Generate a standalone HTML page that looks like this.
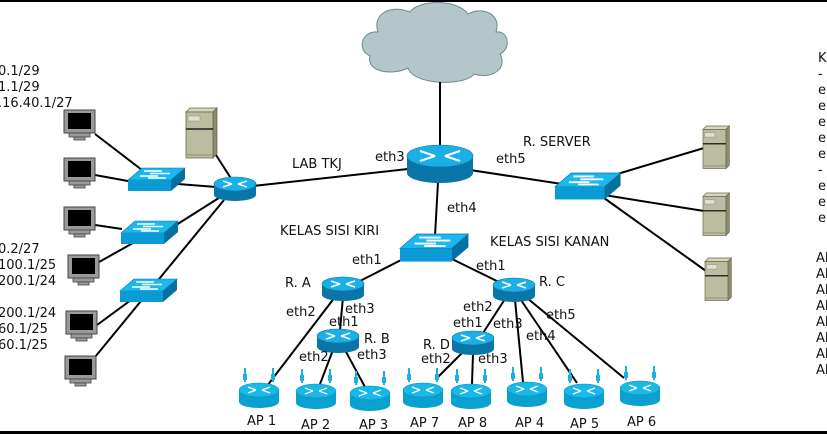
<!DOCTYPE html>
<html><head><meta charset="utf-8"><style>
html,body{margin:0;padding:0;background:#fff;}
svg{display:block;}
text{font-family:"DejaVu Sans","Liberation Sans",sans-serif;font-size:13px;fill:#111;}
</style></head><body>
<svg width="827" height="434" viewBox="0 0 827 434" xmlns="http://www.w3.org/2000/svg">
<defs>
<g id="pc">
 <rect x="0" y="0" width="31" height="23" fill="#9a9a9a" stroke="#444" stroke-width="1"/>
 <rect x="4" y="3" width="23" height="16" fill="#000"/>
 <rect x="5" y="23" width="21" height="4" fill="#9a9a9a" stroke="#444" stroke-width="0.8"/>
 <rect x="10" y="27" width="11" height="3" fill="#9a9a9a" stroke="#444" stroke-width="0.8"/>
</g>
<g id="srv">
 <polygon points="0,4 4,0 31,0 27,4" fill="#d6d6c0" stroke="#66664e" stroke-width="0.8"/>
 <polygon points="27,4 31,0 31,46 27,50" fill="#8c8c70" stroke="#66664e" stroke-width="0.8"/>
 <rect x="0" y="4" width="27" height="46" fill="#bcbca0" stroke="#66664e" stroke-width="0.8"/>
 <rect x="2" y="8" width="12" height="5" fill="#e0e0d0" stroke="#888" stroke-width="0.5"/>
 <line x1="0" y1="21" x2="27" y2="21" stroke="#000" stroke-width="1.3"/>
 <line x1="0" y1="47" x2="27" y2="47" stroke="#8c8c70" stroke-width="1"/>
</g>
<g id="sw">
 <polygon points="0,12 14,0 57,0 43,12" fill="#1ab8ee" stroke="#0a7aaa" stroke-width="0.6"/>
 <polygon points="43,12 57,0 57,11 43,23" fill="#0670a0"/>
 <rect x="0" y="12" width="43" height="11" fill="#0a9ad6"/>
 <g stroke="#fff" stroke-width="1.6" fill="none">
  <line x1="16" y1="3" x2="34" y2="3"/><line x1="22" y1="5.5" x2="42" y2="5.5"/>
  <line x1="12" y1="8" x2="30" y2="8"/><line x1="20" y1="10" x2="38" y2="10"/>
 </g>
</g>
<g id="rt">
 <rect x="-21" y="0" width="42" height="11" fill="#0a76a8"/>
 <ellipse cx="0" cy="11" rx="21" ry="6" fill="#0a76a8"/>
 <ellipse cx="0" cy="0" rx="21" ry="7" fill="#1ab0e6" stroke="#0a76a8" stroke-width="0.6"/>
 <g stroke="#fff" stroke-width="1.6">
  <line x1="-12" y1="-3" x2="-3" y2="0"/><line x1="12" y1="3" x2="3" y2="0"/>
  <line x1="12" y1="-3" x2="3" y2="0"/><line x1="-12" y1="3" x2="-3" y2="0"/>
 </g>
</g>
<g id="ap">
 <g fill="#1ab0e0"><rect x="-15" y="-22" width="2" height="14"/><rect x="13" y="-22" width="2" height="14"/>
 <rect x="-16" y="-16" width="4" height="6"/><rect x="12" y="-16" width="4" height="6"/></g>
 <rect x="-20" y="0" width="40" height="12" fill="#0aa0d0"/>
 <ellipse cx="0" cy="12" rx="20" ry="6" fill="#0aa0d0"/>
 <ellipse cx="0" cy="0" rx="20" ry="7" fill="#18b8e8" stroke="#0a8ab8" stroke-width="0.5"/>
 <g stroke="#fff" stroke-width="1.4">
  <line x1="-11" y1="-3" x2="-3" y2="0"/><line x1="11" y1="3" x2="3" y2="0"/>
  <line x1="11" y1="-3" x2="3" y2="0"/><line x1="-11" y1="3" x2="-3" y2="0"/>
 </g>
</g>
</defs>
<rect x="0" y="0" width="827" height="2" fill="#000"/>
<rect x="0" y="431" width="827" height="3" fill="#000"/>

<!-- cloud -->
<g fill="#b4c6ca" stroke="#6a8a90" stroke-width="1">
<path d="M378,32 C362,30 356,50 370,56 C366,72 392,76 408,68 C414,86 466,86 474,74 C492,80 508,68 500,54 C512,48 508,30 496,32 C502,14 482,6 468,14 C456,-2 418,0 410,12 C390,4 372,14 378,32 Z"/>
</g>

<!-- lines -->
<g stroke="#000" stroke-width="2" fill="none">
<line x1="440" y1="82" x2="440" y2="150"/>
<line x1="235" y1="188" x2="408" y2="169"/>
<line x1="95" y1="134" x2="142" y2="170"/>
<line x1="95" y1="175" x2="128" y2="181"/>
<line x1="178" y1="184" x2="216" y2="187"/>
<line x1="95" y1="225" x2="122" y2="229"/>
<line x1="99" y1="262" x2="133" y2="243"/>
<line x1="165" y1="232" x2="222" y2="196"/>
<line x1="97" y1="325" x2="131" y2="300"/>
<line x1="95" y1="357" x2="224" y2="200"/>
<line x1="216" y1="155" x2="232" y2="180"/>
<line x1="470" y1="170" x2="562" y2="184"/>
<line x1="604" y1="178" x2="704" y2="148"/>
<line x1="604" y1="195" x2="704" y2="211"/>
<line x1="604" y1="198" x2="706" y2="271"/>
<line x1="438" y1="182" x2="435" y2="236"/>
<line x1="405" y1="258" x2="360" y2="281"/>
<line x1="452" y1="259" x2="505" y2="285"/>
<line x1="335" y1="297" x2="267" y2="386"/>
<line x1="343" y1="297" x2="340" y2="330"/>
<line x1="333" y1="350" x2="320" y2="384"/>
<line x1="345" y1="350" x2="365" y2="387"/>
<line x1="505" y1="299" x2="483" y2="333"/>
<line x1="462" y1="353" x2="437" y2="378"/>
<line x1="473" y1="354" x2="472" y2="384"/>
<line x1="515" y1="300" x2="523" y2="382"/>
<line x1="521" y1="300" x2="577" y2="383"/>
<line x1="527" y1="298" x2="624" y2="378"/>
</g>

<!-- main router -->
<g transform="translate(440,156)">
 <rect x="-33" y="0" width="66" height="17" fill="#0a76a8"/>
 <ellipse cx="0" cy="17" rx="33" ry="10" fill="#0a76a8"/>
 <ellipse cx="0" cy="0" rx="33" ry="11" fill="#1ab0e6" stroke="#0a76a8" stroke-width="0.6"/>
 <g stroke="#fff" stroke-width="2.2">
  <line x1="-20" y1="-5" x2="-5" y2="0"/><line x1="20" y1="5" x2="5" y2="0"/>
  <line x1="20" y1="-5" x2="5" y2="0"/><line x1="-20" y1="5" x2="-5" y2="0"/>
 </g>
</g>
<use href="#rt" x="235" y="184"/>
<use href="#rt" x="343" y="284"/>
<use href="#rt" x="338" y="336"/>
<use href="#rt" x="514" y="285"/>
<use href="#rt" x="473" y="338"/>

<use href="#sw" x="128" y="168"/>
<use href="#sw" x="121" y="221"/>
<use href="#sw" x="120" y="279"/>
<use href="#sw" x="400" y="234" transform="translate(400,234) scale(1.2) translate(-400,-234)"/>
<use href="#sw" x="555" y="173" transform="translate(555,173) scale(1.15) translate(-555,-173)"/>

<use href="#pc" x="64" y="110"/>
<use href="#pc" x="64" y="158"/>
<use href="#pc" x="64" y="207"/>
<use href="#pc" x="68" y="255"/>
<use href="#pc" x="66" y="311"/>
<use href="#pc" x="65" y="356"/>

<use href="#srv" x="186" y="108"/>
<use href="#srv" x="703" y="126" transform="translate(703,126) scale(0.85) translate(-703,-126)"/>
<use href="#srv" x="703" y="193" transform="translate(703,193) scale(0.85) translate(-703,-193)"/>
<use href="#srv" x="705" y="258" transform="translate(705,258) scale(0.85) translate(-705,-258)"/>

<use href="#ap" x="259" y="390"/>
<use href="#ap" x="316" y="391"/>
<use href="#ap" x="370" y="393"/>
<use href="#ap" x="423" y="390"/>
<use href="#ap" x="471" y="391"/>
<use href="#ap" x="527" y="389"/>
<use href="#ap" x="584" y="391"/>
<use href="#ap" x="640" y="388"/>

<!-- labels -->
<text x="247" y="425">AP 1</text>
<text x="301" y="429">AP 2</text>
<text x="359" y="429">AP 3</text>
<text x="410" y="427">AP 7</text>
<text x="458" y="427">AP 8</text>
<text x="515" y="427">AP 4</text>
<text x="570" y="428">AP 5</text>
<text x="627" y="426">AP 6</text>

<text x="292" y="168">LAB TKJ</text>
<text x="375" y="161">eth3</text>
<text x="496" y="163">eth5</text>
<text x="523" y="146">R. SERVER</text>
<text x="447" y="212">eth4</text>
<text x="280" y="235">KELAS SISI KIRI</text>
<text x="490" y="246">KELAS SISI KANAN</text>
<text x="352" y="264">eth1</text>
<text x="476" y="270">eth1</text>
<text x="285" y="287">R. A</text>
<text x="539" y="286">R. C</text>
<text x="286" y="316">eth2</text>
<text x="345" y="313">eth3</text>
<text x="329" y="326">eth1</text>
<text x="364" y="343">R. B</text>
<text x="299" y="361">eth2</text>
<text x="357" y="359">eth3</text>
<text x="463" y="311">eth2</text>
<text x="453" y="327">eth1</text>
<text x="493" y="328">eth3</text>
<text x="546" y="319">eth5</text>
<text x="526" y="340">eth4</text>
<text x="423" y="349">R. D</text>
<text x="421" y="363">eth2</text>
<text x="478" y="363">eth3</text>

<text x="-2" y="75">0.1/29</text>
<text x="-2" y="91">1.1/29</text>
<text x="-2" y="107">.16.40.1/27</text>
<text x="-2" y="253">0.2/27</text>
<text x="-2" y="269">100.1/25</text>
<text x="-2" y="285">200.1/24</text>
<text x="-2" y="317">200.1/24</text>
<text x="-2" y="333">60.1/25</text>
<text x="-2" y="349">60.1/25</text>

<text x="818" y="62">K</text>
<text x="818" y="78">-</text>
<text x="818" y="94">e</text>
<text x="818" y="110">e</text>
<text x="818" y="126">e</text>
<text x="818" y="142">e</text>
<text x="818" y="158">e</text>
<text x="818" y="174">-</text>
<text x="818" y="190">e</text>
<text x="818" y="206">e</text>
<text x="818" y="222">e</text>
<text x="816" y="262">Al</text>
<text x="816" y="278">Al</text>
<text x="816" y="294">Al</text>
<text x="816" y="310">Al</text>
<text x="816" y="326">Al</text>
<text x="816" y="342">Al</text>
<text x="816" y="358">Al</text>
<text x="816" y="374">Al</text>
</svg>
</body></html>
